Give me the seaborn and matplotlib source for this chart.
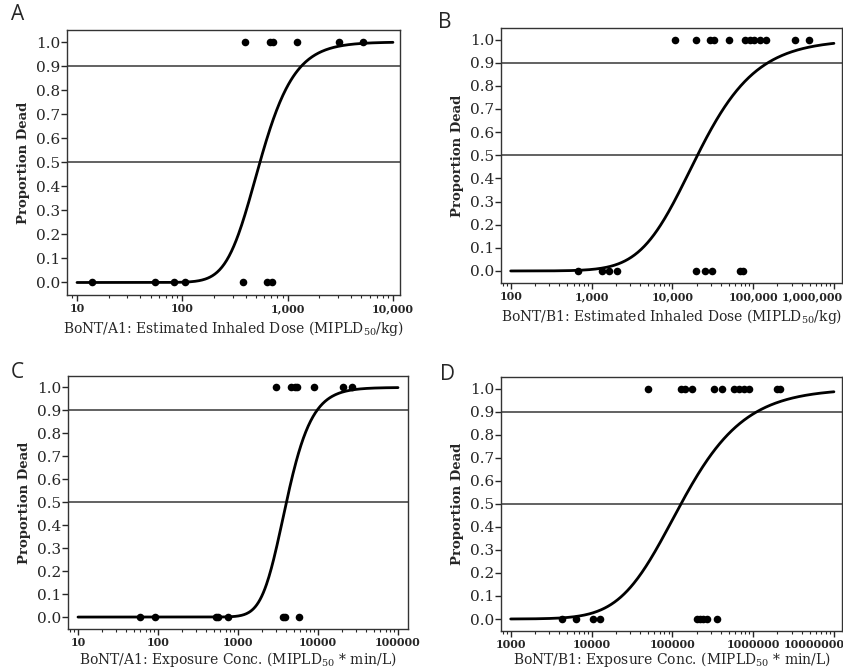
import numpy as np
import pandas as pd
import matplotlib
matplotlib.use("Agg")
import matplotlib.pyplot as plt
import matplotlib.ticker as mticker
import matplotlib.transforms as mtrans
import seaborn as sns

# --- data ---------------------------------------------------------------
# doses of animals that survived (0) and died (1), per panel
a_dead0 = [14, 55, 83, 107, 378, 631, 714]
a_dead1 = [398, 680, 730, 1220, 3100, 5200]
b_dead0 = [685, 1330, 1660, 2040, 19400, 25200, 31400, 68000, 74000]
b_dead1 = [10700, 19400, 29000, 32600, 50400, 78700, 90800, 101600,
           121000, 146000, 327000, 486000]
c_dead0 = [60, 91, 525, 565, 750, 3650, 3840, 5740]
c_dead1 = [2960, 4560, 5120, 5470, 8920, 20500, 26900]
d_dead0 = [4290, 6500, 10400, 12800, 203000, 220000, 240000, 265000, 358000]
d_dead1 = [50000, 128000, 145000, 175000, 332000, 413000, 575000, 665000,
           766000, 883000, 1990000, 2180000]

# fitted curves: log10 dose at 50 % and 90 % lethality, and drawn range
a_fit = (2.737, 3.131)
b_fit = (4.311, 5.184)
c_fit = (3.605, 3.987)
d_fit = (5.108, 6.050)
a_range = (10, 10000)
b_range = (100, 1000000)
c_range = (10, 100000)
d_range = (1000, 10000000)

a_ticks = [10, 100, 1000, 10000]
a_ticklabels = ["10", "100", "1,000", "10,000"]
b_ticks = [100, 1000, 10000, 100000, 1000000]
b_ticklabels = ["100", "1,000", "10,000", "100,000", "1,000,000"]
c_ticks = [10, 100, 1000, 10000, 100000]
c_ticklabels = ["10", "100", "1000", "10000", "100000"]
d_ticks = [1000, 10000, 100000, 1000000, 10000000]
d_ticklabels = ["1000", "10000", "100000", "1000000", "10000000"]

a_xlabel = "BoNT/A1: Estimated Inhaled Dose (MIPLD$_{50}$/kg)"
b_xlabel = "BoNT/B1: Estimated Inhaled Dose (MIPLD$_{50}$/kg)"
c_xlabel = "BoNT/A1: Exposure Conc. (MIPLD$_{50}$ * min/L)"
d_xlabel = "BoNT/B1: Exposure Conc. (MIPLD$_{50}$ * min/L)"

SKEW = 2.5


def _q(p):
    return -np.log(p ** (-1.0 / SKEW) - 1.0)


def curva(fit, rango):
    t50, t90 = fit
    s = (_q(0.9) - _q(0.5)) / (t90 - t50)
    m = t50 - _q(0.5) / s
    t = np.linspace(np.log10(rango[0]), np.log10(rango[1]), 400)
    p = (1.0 + np.exp(-s * (t - m))) ** (-SKEW)
    return pd.DataFrame({"dosis": 10 ** t, "prop": p})


def panel(fig, rect, letra, letra_xy, dead0, dead1, fit, rango, xlim,
          ticks, ticklabels, xlabel, ultimo_dx=0, xpad=3):
    ax = fig.add_axes(rect)
    puntos = pd.DataFrame({
        "dosis": dead0 + dead1,
        "prop": [0.0] * len(dead0) + [1.0] * len(dead1),
    })
    ax.axhline(0.9, color="#555555", linewidth=1.3, zorder=1)
    ax.axhline(0.5, color="#555555", linewidth=1.3, zorder=1)
    sns.lineplot(data=curva(fit, rango), x="dosis", y="prop", color="black",
                 linewidth=2.0, ax=ax, zorder=3)
    sns.scatterplot(data=puntos, x="dosis", y="prop", color="black", s=30,
                    edgecolor="black", linewidth=0, ax=ax, zorder=4)
    ax.set_xscale("log")
    ax.set_xlim(*xlim)
    ax.set_ylim(-0.052, 1.05)
    ax.xaxis.set_major_locator(mticker.FixedLocator(ticks))
    ax.xaxis.set_major_formatter(mticker.FixedFormatter(ticklabels))
    ax.xaxis.set_minor_locator(mticker.LogLocator(base=10, subs=np.arange(2, 10)))
    ax.xaxis.set_minor_formatter(mticker.NullFormatter())
    ax.set_yticks(np.round(np.arange(0, 1.01, 0.1), 1))
    ax.set_yticklabels([f"{v:.1f}" for v in np.arange(0, 1.01, 0.1)])
    ax.tick_params(axis="y", labelsize=11, length=4, width=1, pad=1)
    ax.tick_params(axis="x", which="major", labelsize=8, length=4, width=1, pad=2)
    ax.tick_params(axis="x", which="minor", length=2, width=0.8)
    etiquetas = ax.get_xticklabels()
    for lbl in etiquetas:
        lbl.set_fontweight("bold")
    if ultimo_dx:
        desplazar = mtrans.ScaledTranslation(-ultimo_dx / 100, 0, fig.dpi_scale_trans)
        etiquetas[-1].set_transform(etiquetas[-1].get_transform() + desplazar)
    ax.set_xlabel(xlabel, fontsize=10, labelpad=xpad)
    ax.set_ylabel("Proportion Dead", fontsize=9.5, fontweight="bold", labelpad=4)
    for sp in ax.spines.values():
        sp.set_visible(True)
        sp.set_color("#333333")
        sp.set_linewidth(1.0)
    fig.text(letra_xy[0] / 843, 1 - letra_xy[1] / 670, letra, fontsize=15,
             family="Open Sans", ha="center", va="center")
    return ax


def main():
    sns.set_theme(style="ticks")
    plt.rcParams["font.family"] = ["DejaVu Serif"]
    plt.rcParams["mathtext.fontset"] = "dejavuserif"

    W, H = 843, 670
    fig = plt.figure(figsize=(W / 100, H / 100), dpi=100)

    def rect(l, r, t, b):
        return [l / W, 1 - b / H, (r - l) / W, (b - t) / H]

    panel(fig, rect(67, 400, 30, 295), "A", (18, 15), a_dead0, a_dead1,
          a_fit, a_range, (10 ** 0.905, 10 ** 4.067), a_ticks, a_ticklabels,
          a_xlabel)
    panel(fig, rect(501, 842, 28, 283), "B", (445, 22), b_dead0, b_dead1,
          b_fit, b_range, (10 ** 1.88, 10 ** 6.10), b_ticks, b_ticklabels,
          b_xlabel, ultimo_dx=22)
    panel(fig, rect(68, 408, 376, 629), "C", (17, 372), c_dead0, c_dead1,
          c_fit, c_range, (10 ** 0.875, 10 ** 5.125), c_ticks, c_ticklabels,
          c_xlabel, xpad=1)
    panel(fig, rect(501, 842, 377, 631), "D", (448, 375), d_dead0, d_dead1,
          d_fit, d_range, (10 ** 2.88, 10 ** 7.10), d_ticks, d_ticklabels,
          d_xlabel, ultimo_dx=20, xpad=0)

    fig.savefig("out.png", dpi=100)


if __name__ == "__main__":
    main()
